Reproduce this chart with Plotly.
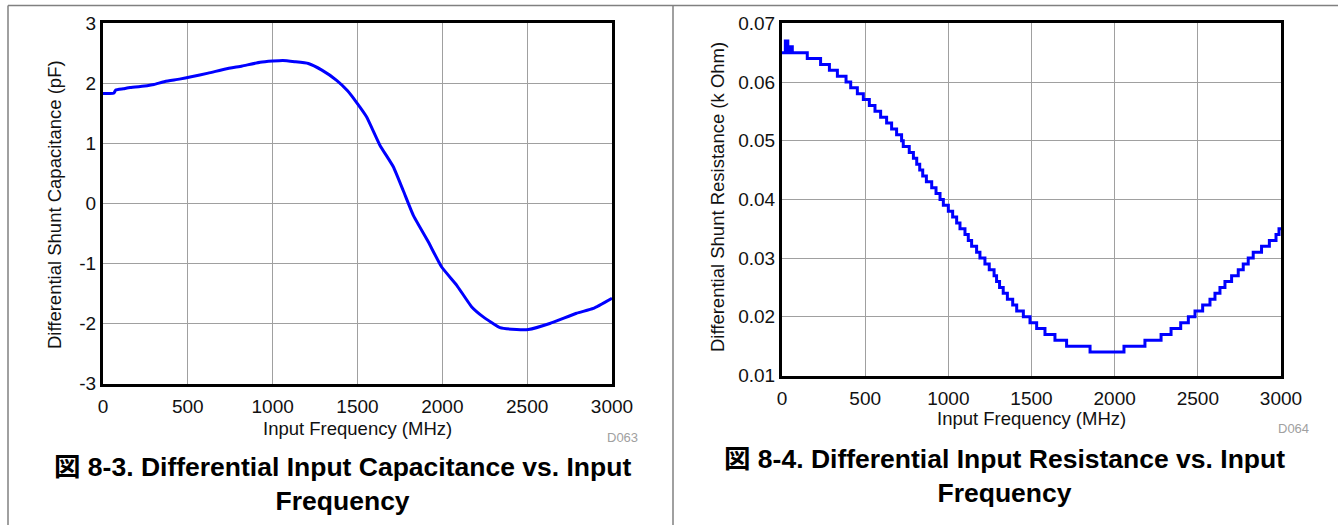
import plotly.graph_objects as go

# ---------------- data ----------------
freq_ticks = [0, 500, 1000, 1500, 2000, 2500, 3000]
freq_tick_labels = ["0", "500", "1000", "1500", "2000", "2500", "3000"]

cap_ticks = [-3, -2, -1, 0, 1, 2, 3]
cap_tick_labels = ["-3", "-2", "-1", "0", "1", "2", "3"]

res_ticks = [0.01, 0.02, 0.03, 0.04, 0.05, 0.06, 0.07]
res_tick_labels = ["0.01", "0.02", "0.03", "0.04", "0.05", "0.06", "0.07"]

# Differential shunt capacitance (pF) vs input frequency (MHz)
cap_freq = [0, 40, 65, 75, 120, 160, 260, 300, 365, 450, 520, 620, 722, 820, 926,
            1000, 1060, 1130, 1210, 1290, 1377, 1440, 1495, 1554, 1632, 1711, 1770,
            1829, 1917, 1996, 2084, 2172, 2241, 2340, 2438, 2507, 2633, 2791, 2890, 3000]
cap_pf = [1.83, 1.83, 1.84, 1.89, 1.91, 1.93, 1.96, 1.98, 2.03, 2.07, 2.11, 2.17, 2.24,
          2.29, 2.35, 2.37, 2.38, 2.36, 2.33, 2.22, 2.05, 1.88, 1.68, 1.44, 0.97, 0.61,
          0.21, -0.20, -0.64, -1.06, -1.36, -1.72, -1.89, -2.07, -2.10, -2.10, -2.00,
          -1.83, -1.75, -1.58]

# Differential shunt resistance (k Ohm) vs input frequency (MHz), stepped readout
res_freq = [0, 20, 35, 50, 62, 152, 232, 285, 333, 385, 413, 453, 489, 525, 559, 593,
            629, 659, 689, 719, 729, 765, 790, 810, 828, 846, 868, 900, 926, 950, 970,
            1000, 1026, 1050, 1070, 1100, 1120, 1140, 1170, 1190, 1220, 1246, 1275,
            1290, 1308, 1330, 1355, 1387, 1411, 1451, 1491, 1531, 1581, 1641, 1711,
            1852, 2056, 2182, 2279, 2339, 2397, 2443, 2483, 2529, 2573, 2603, 2633,
            2663, 2703, 2743, 2773, 2803, 2833, 2883, 2930, 2970, 2988, 3000]
res_kohm = [0.065, 0.067, 0.065, 0.066, 0.065, 0.064, 0.063, 0.062, 0.061, 0.060,
            0.059, 0.058, 0.057, 0.056, 0.055, 0.054, 0.053, 0.052, 0.051, 0.050,
            0.049, 0.048, 0.047, 0.046, 0.045, 0.044, 0.043, 0.042, 0.041, 0.040,
            0.039, 0.038, 0.037, 0.036, 0.035, 0.034, 0.033, 0.032, 0.031, 0.030,
            0.029, 0.028, 0.027, 0.026, 0.025, 0.024, 0.023, 0.022, 0.021, 0.020,
            0.019, 0.018, 0.017, 0.016, 0.015, 0.014, 0.015, 0.016, 0.017, 0.018,
            0.019, 0.020, 0.021, 0.022, 0.023, 0.024, 0.025, 0.026, 0.027, 0.028,
            0.029, 0.030, 0.031, 0.032, 0.033, 0.034, 0.035, 0.035]

# ---------------- figure ----------------
W, H = 1338, 525
def px(x):
    return x / W
def py(y):
    return 1 - y / H

TICK_FONT = dict(family="Liberation Sans, Arial, sans-serif", size=19, color="#111")
TITLE_FONT = dict(family="Liberation Sans, Arial, sans-serif", size=18.5, color="#111")
CAP_FONT = dict(family="Liberation Sans, Arial, Noto Sans CJK JP, sans-serif", size=26.5, color="#000")

fig = go.Figure()
fig.add_trace(go.Scatter(x=cap_freq, y=cap_pf, mode="lines",
                         line=dict(color="#0000ff", width=3, shape="spline", smoothing=0.4),
                         xaxis="x", yaxis="y", showlegend=False, hoverinfo="skip"))
fig.add_trace(go.Scatter(x=res_freq, y=res_kohm, mode="lines",
                         line=dict(color="#0000ff", width=3, shape="hv"),
                         xaxis="x2", yaxis="y2", showlegend=False, hoverinfo="skip"))

axis_common = dict(showgrid=True, gridcolor="#a0a0a0", gridwidth=1, zeroline=False,
                   showline=True, linecolor="#000", linewidth=3, mirror=True,
                   ticks="", tickfont=TICK_FONT, automargin=False, fixedrange=True)

fig.update_layout(
    width=W, height=H, autosize=False,
    margin=dict(l=0, r=0, t=0, b=0, pad=0, autoexpand=False),
    paper_bgcolor="white", plot_bgcolor="white",
    xaxis=dict(domain=[px(103), px(612)], range=[0, 3000], tickmode="array",
               tickvals=freq_ticks, ticktext=freq_tick_labels, anchor="y",
               ticklabelstandoff=4, **axis_common),
    yaxis=dict(domain=[py(383.5), py(23.3)], range=[-3, 3], tickmode="array",
               tickvals=cap_ticks, ticktext=cap_tick_labels, anchor="x", **axis_common),
    xaxis2=dict(domain=[px(782), px(1281)], range=[0, 3000], tickmode="array",
                tickvals=freq_ticks, ticktext=freq_tick_labels, anchor="y2",
                ticklabelstandoff=4, **axis_common),
    yaxis2=dict(domain=[py(375.5), py(23.3)], range=[0.01, 0.07], tickmode="array",
                tickvals=res_ticks, ticktext=res_tick_labels, anchor="x2", **axis_common),
)

ann = []
def A(text, x, y, font, angle=0, color=None):
    f = dict(font)
    if color:
        f["color"] = color
    ann.append(dict(text=text, x=px(x), y=py(y), xref="paper", yref="paper",
                    xanchor="center", yanchor="middle", showarrow=False,
                    textangle=angle, font=f))

A("Differential Shunt Capacitance (pF)", 55, 205, TITLE_FONT, angle=-90)
A("Input Frequency (MHz)", 357, 428, TITLE_FONT)
A("D063", 622, 437, dict(family="Liberation Sans, Arial", size=13), color="#a0a0a0")
A("Differential Shunt Resistance (k Ohm)", 717, 197, TITLE_FONT, angle=-90)
A("Input Frequency (MHz)", 1031, 418, TITLE_FONT)
A("D064", 1293, 428, dict(family="Liberation Sans, Arial", size=13), color="#a0a0a0")
A("<b>図 8-3. Differential Input Capacitance vs. Input<br>Frequency</b>", 342, 484, CAP_FONT)
A("<b>図 8-4. Differential Input Resistance vs. Input<br>Frequency</b>", 1005, 476, CAP_FONT)
fig.update_layout(annotations=ann)

shapes = [
    dict(type="line", xref="paper", yref="paper", x0=px(8), x1=1, y0=py(5.5), y1=py(5.5),
         line=dict(color="#808080", width=1.5)),
    dict(type="line", xref="paper", yref="paper", x0=px(8), x1=px(8), y0=py(5.5), y1=0,
         line=dict(color="#808080", width=1.5)),
    dict(type="line", xref="paper", yref="paper", x0=px(673), x1=px(673), y0=py(5.5), y1=0,
         line=dict(color="#808080", width=1.5)),
]
fig.update_layout(shapes=shapes)

fig.write_html("out.html", config={"displayModeBar": False, "staticPlot": True},
               post_script="document.body.style.margin='0';document.body.style.overflow='hidden';")
